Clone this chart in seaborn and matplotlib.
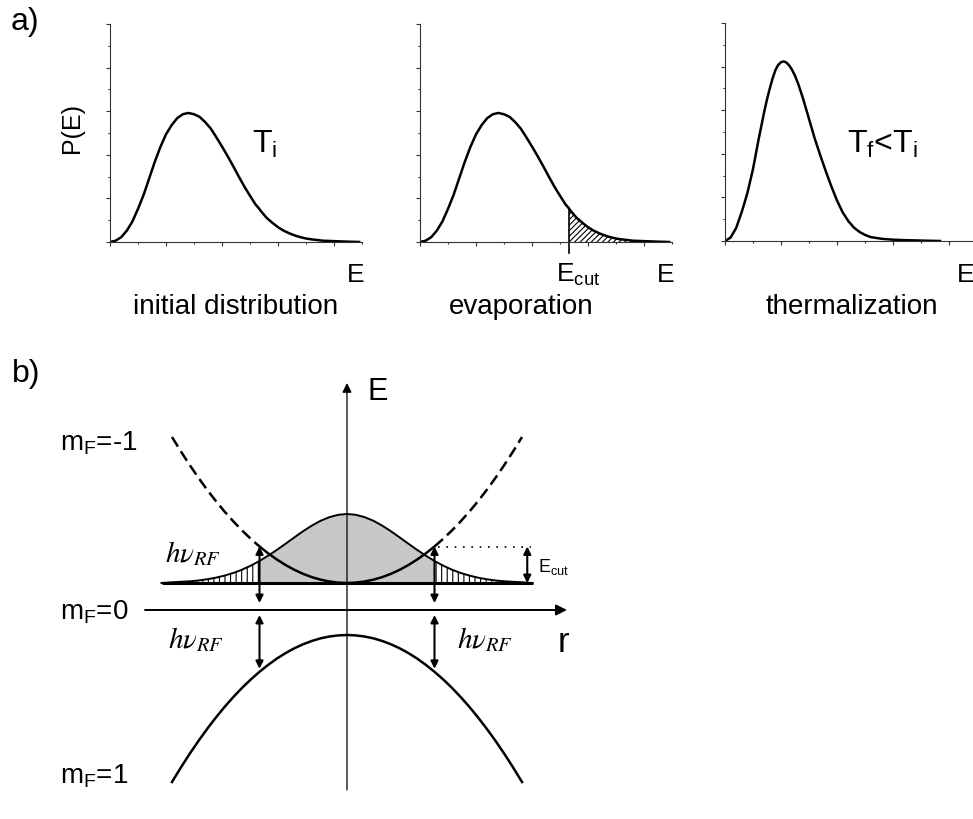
import matplotlib
matplotlib.use("Agg")
import matplotlib.pyplot as plt
from matplotlib.ticker import MultipleLocator
import seaborn as sns
import numpy as np

# ---- data ----
# a) energy distributions, x in tick units, y in major tick units
e_init = [0, 0.1, 0.2, 0.3, 0.4, 0.5, 0.6, 0.7, 0.8, 0.9, 1.0, 1.1, 1.2, 1.3, 1.4, 1.5, 1.6,
          1.7, 1.8, 1.9, 2.0, 2.1, 2.2, 2.3, 2.4, 2.5, 2.6, 2.66, 2.7, 2.8, 2.9, 3.0, 3.1, 3.2,
          3.3, 3.4, 3.5, 3.6, 3.7, 3.8, 3.9, 4.0, 4.2, 4.45]
p_init = [0, 0.03, 0.11, 0.26, 0.47, 0.76, 1.08, 1.46, 1.84, 2.18, 2.47, 2.68, 2.84, 2.93, 2.96,
          2.93, 2.87, 2.75, 2.60, 2.40, 2.19, 1.97, 1.74, 1.50, 1.27, 1.06, 0.86, 0.77, 0.70, 0.55,
          0.44, 0.34, 0.26, 0.20, 0.15, 0.11, 0.08, 0.06, 0.045, 0.03, 0.025, 0.02, 0.01, 0.0]
e_cut = 2.66

e_therm = [0, 0.1, 0.2, 0.3, 0.4, 0.5, 0.6, 0.7, 0.75, 0.8, 0.85, 0.9, 0.95, 1.0, 1.05, 1.1,
           1.15, 1.2, 1.25, 1.3, 1.35, 1.4, 1.5, 1.6, 1.7, 1.8, 1.9, 2.0, 2.1, 2.2, 2.3, 2.4,
           2.5, 2.6, 2.8, 3.0, 3.2, 3.5, 3.84]
p_therm = [0, 0.08, 0.30, 0.67, 1.10, 1.65, 2.33, 2.96, 3.25, 3.50, 3.73, 3.92, 4.04, 4.10, 4.12,
           4.09, 4.02, 3.92, 3.79, 3.63, 3.44, 3.24, 2.80, 2.36, 1.97, 1.60, 1.25, 0.93, 0.66,
           0.46, 0.31, 0.21, 0.14, 0.09, 0.05, 0.03, 0.02, 0.01, 0.0]

panel_titles = ["initial distribution", "evaporation", "thermalization"]

# b) trap potentials and cloud profile, r and E in arbitrary units
r_levels = [-1.0, -0.95, -0.9, -0.85, -0.8, -0.75, -0.7, -0.65, -0.6, -0.55, -0.5, -0.45,
            -0.4, -0.35, -0.3, -0.25, -0.2, -0.15, -0.1, -0.05, 0, 0.05, 0.1, 0.15, 0.2, 0.25,
            0.3, 0.35, 0.4, 0.45, 0.5, 0.55, 0.6, 0.65, 0.7, 0.75, 0.8, 0.85, 0.9, 0.95, 1.0]
upper_level = [1.73, 1.588, 1.453, 1.325, 1.204, 1.091, 0.985, 0.887, 0.796, 0.712, 0.635,
               0.566, 0.504, 0.449, 0.401, 0.361, 0.328, 0.303, 0.285, 0.274, 0.27, 0.274,
               0.285, 0.303, 0.328, 0.361, 0.401, 0.449, 0.504, 0.566, 0.635, 0.712, 0.796,
               0.887, 0.985, 1.091, 1.204, 1.325, 1.453, 1.588, 1.73]
lower_level = [-1.72, -1.577, -1.441, -1.312, -1.191, -1.077, -0.970, -0.871, -0.779, -0.695,
               -0.618, -0.548, -0.485, -0.430, -0.382, -0.342, -0.309, -0.283, -0.265, -0.254,
               -0.25, -0.254, -0.265, -0.283, -0.309, -0.342, -0.382, -0.430, -0.485, -0.548,
               -0.618, -0.695, -0.779, -0.871, -0.970, -1.077, -1.191, -1.312, -1.441, -1.577,
               -1.72]

r_cloud = [-1.06, -1.0, -0.9, -0.85, -0.8, -0.75, -0.7, -0.65, -0.6, -0.55, -0.5, -0.45, -0.4,
           -0.35, -0.3, -0.25, -0.2, -0.15, -0.1, -0.05, 0, 0.05, 0.1, 0.15, 0.2, 0.25, 0.3,
           0.35, 0.4, 0.45, 0.5, 0.55, 0.6, 0.65, 0.7, 0.75, 0.8, 0.85, 0.9, 1.0, 1.06]
cloud = [0.27, 0.277, 0.287, 0.295, 0.307, 0.323, 0.344, 0.370, 0.403, 0.443, 0.490, 0.544,
         0.602, 0.664, 0.727, 0.789, 0.845, 0.893, 0.929, 0.952, 0.96, 0.952, 0.929, 0.893,
         0.845, 0.789, 0.727, 0.664, 0.602, 0.544, 0.490, 0.443, 0.403, 0.370, 0.344, 0.323,
         0.307, 0.295, 0.287, 0.277, 0.27]
r_cut = 0.5

# ---- style ----
plt.rcParams["font.family"] = ["Liberation Sans", "DejaVu Sans"]
plt.rcParams["mathtext.fontset"] = "custom"
plt.rcParams["mathtext.rm"] = "Liberation Sans"
plt.rcParams["mathtext.it"] = "Liberation Sans:italic"
plt.rcParams["mathtext.bf"] = "Liberation Sans:bold"
plt.rcParams["hatch.linewidth"] = 0.8
plt.rcParams["lines.solid_joinstyle"] = "round"
plt.rcParams["lines.dash_joinstyle"] = "round"

W, H = 973, 819
fig = plt.figure(figsize=(W / 100, H / 100), dpi=100)

def fx(px):
    return px / W

def fy(py):
    return 1 - py / H

def label(x, y, s, size, **kw):
    fig.text(fx(x), fy(y), s, fontsize=size, va="baseline", **kw)

spine_col = "#333333"

# ---- panel a ----
lefts = [110, 420, 725]
bottoms = [242, 242, 241]
axes_a = []
for left, bot in zip(lefts, bottoms):
    ax = fig.add_axes([fx(left), fy(bot), 252 / W, 218 / H])
    ax.set_xlim(0, 4.5)
    ax.set_ylim(0, 5)
    sns.despine(ax=ax)
    for s in ["left", "bottom"]:
        ax.spines[s].set_color(spine_col)
        ax.spines[s].set_linewidth(0.8)
    ax.xaxis.set_major_locator(MultipleLocator(1))
    ax.xaxis.set_minor_locator(MultipleLocator(0.5))
    ax.yaxis.set_major_locator(MultipleLocator(1))
    ax.yaxis.set_minor_locator(MultipleLocator(0.5))
    ax.tick_params(which="major", direction="out", length=3, width=0.8, color=spine_col,
                   labelbottom=False, labelleft=False)
    ax.tick_params(which="minor", direction="out", length=1.5, width=0.8, color=spine_col)
    ax.patch.set_alpha(0)
    axes_a.append(ax)

for ax in axes_a[:2]:
    sns.lineplot(x=e_init, y=p_init, ax=ax, color="black", linewidth=1.8)

sns.lineplot(x=e_therm, y=p_therm, ax=axes_a[2], color="black", linewidth=1.8)

# evaporated tail
e_arr = np.array(e_init)
p_arr = np.array(p_init)
tail = e_arr >= e_cut
axes_a[1].fill_between(e_arr[tail], 0, p_arr[tail], facecolor="none", edgecolor="black",
                       hatch="//////", linewidth=0)
cut_top = p_arr[e_arr == e_cut][0]
axes_a[1].plot([e_cut, e_cut], [-0.25, cut_top], color="black", linewidth=1.2, clip_on=False)

label(11, 30, "a)", 23)
fig.text(fx(72), fy(128), "P(E)", fontsize=18, rotation=90, ha="center", va="center")
label(252, 153, r"$\mathrm{T_i}$", 23)
label(847, 153, r"$\mathrm{T_f}$<$\mathrm{T_i}$", 23)
for x in [347, 657, 957]:
    label(x, 282, "E", 19)
label(556, 282, r"$\mathrm{E_{cut}}$", 19)
for cx, t in zip([236, 521, 852], panel_titles):
    label(cx, 314, t, 20, ha="center")

# ---- panel b ----
R0, RS = 347, 175      # pixel of r=0 and pixels per r unit
E0, ES = 610, 100      # pixel of E=0 and pixels per E unit
top_px = 340
axb = fig.add_axes([0, 0, 1, (H - top_px) / H])
axb.set_xlim((0 - R0) / RS, (W - R0) / RS)
axb.set_ylim((E0 - H) / ES, (E0 - top_px) / ES)
axb.axis("off")
axb.patch.set_alpha(0)

r_c = np.array(r_cloud)
c_v = np.array(cloud)
base = cloud[0]
inner = np.abs(r_c) <= r_cut + 1e-9
axb.fill_between(r_c[inner], base, c_v[inner], facecolor="#c8c8c8", linewidth=0)
for m in [r_c <= -r_cut + 1e-9, r_c >= r_cut - 1e-9]:
    axb.fill_between(r_c[m], base, c_v[m], facecolor="none", edgecolor="black",
                     hatch="|||", linewidth=0)
sns.lineplot(x=r_cloud, y=cloud, ax=axb, color="black", linewidth=1.4)
axb.plot([r_cloud[0], r_cloud[-1]], [base, base], color="black", linewidth=2.2,
         solid_capstyle="butt")

r_l = np.array(r_levels)
up = np.array(upper_level)
mid = np.abs(r_l) <= r_cut + 1e-9
sns.lineplot(x=r_l[mid], y=up[mid], ax=axb, color="black", linewidth=1.8)
for m in [r_l <= -r_cut + 1e-9, r_l >= r_cut - 1e-9]:
    sns.lineplot(x=r_l[m], y=up[m], ax=axb, color="black", linewidth=1.8,
                 linestyle=(0, (4.5, 2.2)))
sns.lineplot(x=r_levels, y=lower_level, ax=axb, color="black", linewidth=1.8)

# axes of the energy diagram
axb.annotate("", xy=(0, (E0 - 383) / ES), xytext=(0, (E0 - 790) / ES),
             arrowprops=dict(arrowstyle="-|>", lw=0.9, color="black", mutation_scale=14,
                             shrinkA=0, shrinkB=0))
axb.annotate("", xy=((567 - R0) / RS, 0), xytext=((145 - R0) / RS, 0),
             arrowprops=dict(arrowstyle="-|>", lw=1.4, color="black", mutation_scale=16,
                             shrinkA=0, shrinkB=0))

# RF transitions
e_cut_level = up[np.isclose(r_l, r_cut)][0]
low_cut = np.array(lower_level)[np.isclose(r_l, r_cut)][0]
dbl = dict(arrowstyle="<|-|>", lw=1.5, color="black", mutation_scale=11, shrinkA=0, shrinkB=0)
for rr in [-r_cut, r_cut]:
    axb.annotate("", xy=(rr, e_cut_level), xytext=(rr, 0.07), arrowprops=dbl)
    axb.annotate("", xy=(rr, -0.05), xytext=(rr, low_cut + 0.03), arrowprops=dbl)

# E_cut marker
axb.plot([r_cut + 0.02, 1.05], [e_cut_level, e_cut_level], color="black", linewidth=1.2,
         linestyle=(0, (1, 4)))
axb.annotate("", xy=(1.03, e_cut_level), xytext=(1.03, base), arrowprops=dbl)

label(12, 382, "b)", 23)
label(368, 400, "E", 22)
label(558, 652, "r", 25)
label(538, 572, r"$\mathrm{E_{cut}}$", 13)
label(60, 450, r"$\mathrm{m_F}$=-1", 20)
label(60, 620, r"$\mathrm{m_F}$=0", 20)
label(60, 784, r"$\mathrm{m_F}$=1", 20)
for x, y in [(165, 562), (168, 648), (457, 648)]:
    fig.text(fx(x), fy(y), r"$h\nu_{RF}$", fontsize=21, va="baseline", math_fontfamily="stix")

fig.savefig("out.png", dpi=100)
